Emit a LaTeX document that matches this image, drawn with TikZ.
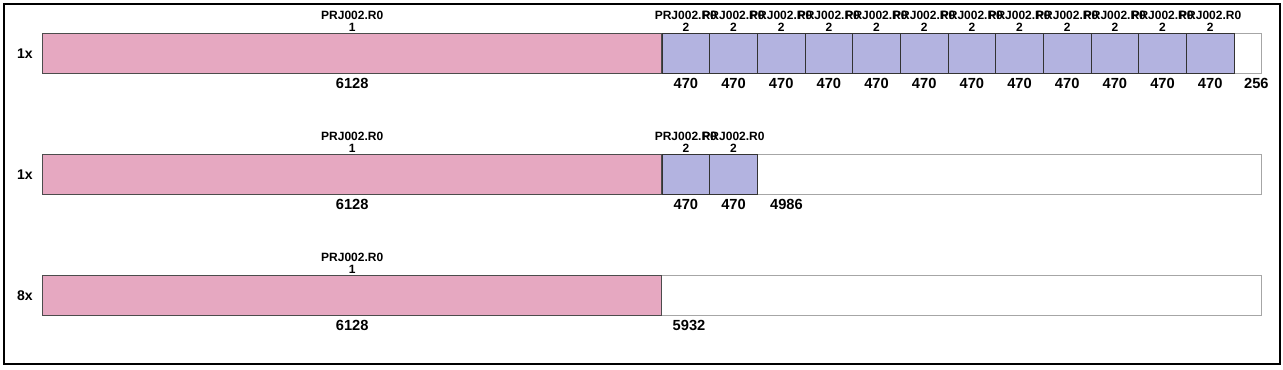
\documentclass[tikz,border=0pt]{standalone}
\usepackage{fontspec}
\setmainfont{Liberation Sans}
\usetikzlibrary{positioning}
\definecolor{pinkpc}{RGB}{230,168,193}
\definecolor{bluepc}{RGB}{179,179,224}
\begin{document}
\begin{tikzpicture}[x=0.75pt,y=-0.75pt,
		stockbar/.style={draw=black!35,fill=white,line width=0.75pt,minimum width=914.25pt,minimum height=30pt,anchor=north west},
		cutpink/.style={draw=black!70,fill=pinkpc,line width=0.75pt,minimum width=464.6pt,minimum height=30pt,anchor=north west},
		cutblue/.style={draw=black!80,fill=bluepc,line width=0.75pt,minimum width=35.75pt,minimum height=30pt,anchor=north west},
		toplbl/.style={align=center,font=\fontsize{9}{9}\selectfont\bfseries},
		botlbl/.style={font=\fontsize{11}{13}\selectfont\bfseries},
		rowlbl/.style={font=\fontsize{10.5}{12}\selectfont\bfseries}]
		\tikzstyle{every node}+=[inner sep=0pt]
		\useasboundingbox (0,0) rectangle (1283,369);
		\draw [line width=1.5pt] (3.7,3.7) rectangle (1280,364);
		% first bar: 1 x 6128 and 12 x 470
		\node [stockbar] (r1s) at (42,33) {};
		\node [rowlbl,left=6.75pt of r1s.west] (r1n) {1x};
		\node [cutpink] (r1p) at (42,33) {};
		\node [toplbl,above=0.75pt of r1p.north] (r1pt) {PRJ002.R0\\1};
		\node [botlbl,below=3pt of r1p.south] (r1pl) {6128};
		\foreach \i in {1,...,12}{
			\node [cutblue] (r1b\i) at ({661.5+(\i-1)*47.67},33) {};
			\node [toplbl,above=0.75pt of r1b\i.north] (r1bt\i) {PRJ002.R0\\2};
			\node [botlbl,below=3pt of r1b\i.south] (r1bl\i) {470};
		}
		\node [botlbl,anchor=north west] (r1rest) at ([shift={(7pt,-3pt)}]r1b12.south east) {256};
		% second bar: 1 x 6128 and 2 x 470
		\node [stockbar] (r2s) at (42,154) {};
		\node [rowlbl,left=6.75pt of r2s.west] (r2n) {1x};
		\node [cutpink] (r2p) at (42,154) {};
		\node [toplbl,above=0.75pt of r2p.north] (r2pt) {PRJ002.R0\\1};
		\node [botlbl,below=3pt of r2p.south] (r2pl) {6128};
		\foreach \i in {1,2}{
			\node [cutblue] (r2b\i) at ({661.5+(\i-1)*47.67},154) {};
			\node [toplbl,above=0.75pt of r2b\i.north] (r2bt\i) {PRJ002.R0\\2};
			\node [botlbl,below=3pt of r2b\i.south] (r2bl\i) {470};
		}
		\node [botlbl,anchor=north west] (r2rest) at ([shift={(9pt,-3pt)}]r2b2.south east) {4986};
		% third bar: 8 x 6128
		\node [stockbar] (r3s) at (42,275) {};
		\node [rowlbl,left=6.75pt of r3s.west] (r3n) {8x};
		\node [cutpink] (r3p) at (42,275) {};
		\node [toplbl,above=0.75pt of r3p.north] (r3pt) {PRJ002.R0\\1};
		\node [botlbl,below=3pt of r3p.south] (r3pl) {6128};
		\node [botlbl,anchor=north west] (r3rest) at ([shift={(7.5pt,-3pt)}]r3p.south east) {5932};
	\end{tikzpicture}
\end{document}
